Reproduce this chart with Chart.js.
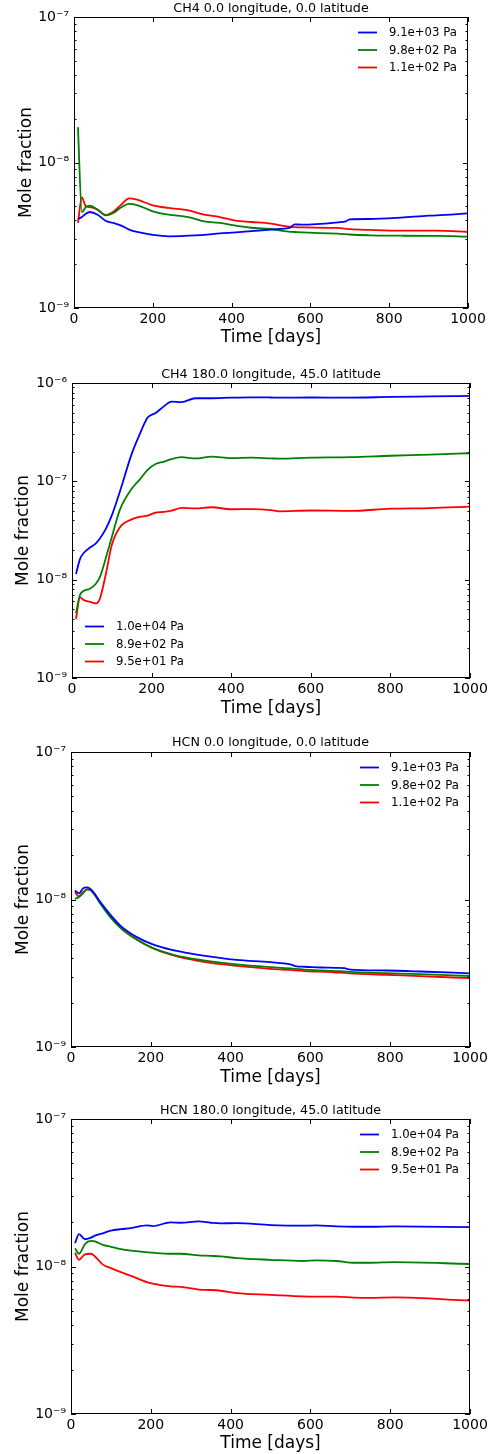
<!DOCTYPE html>
<html>
<head>
<meta charset="utf-8">
<script src="https://cdn.jsdelivr.net/npm/chart.js@4.4.1/dist/chart.umd.min.js"></script>
<style>
  html, body { margin: 0; padding: 0; background: #fff; }
  #wrap { position: relative; width: 496px; height: 1454px; }
  .panel { position: absolute; left: 0; width: 496px; }
</style>
</head>
<body>
<div id="wrap">
  <div class="panel" style="top:0px;height:350px"><canvas id="c1"></canvas></div>
  <div class="panel" style="top:360px;height:365px"><canvas id="c2"></canvas></div>
  <div class="panel" style="top:730px;height:360px"><canvas id="c3"></canvas></div>
  <div class="panel" style="top:1100px;height:354px"><canvas id="c4"></canvas></div>
</div>
<script>
// x ticks shared by all panels
const xTicks = [0, 200, 400, 600, 800, 1000]

// CH4 at 0.0 lon, 0.0 lat
const ch4EqDays = [10, 20, 30, 40, 60, 80, 100, 120, 140, 160, 200, 240, 290, 330, 370, 410, 450, 500, 540, 550, 560, 580, 670, 690, 700, 750, 830, 900, 920, 1000]
const ch4EqLabels = ['9.1e+03 Pa', '9.8e+02 Pa', '1.1e+02 Pa']
const ch4EqLow = [4.09e-9, 4.22e-9, 4.45e-9, 4.57e-9, 4.38e-9, 3.98e-9, 3.84e-9, 3.68e-9, 3.46e-9, 3.33e-9, 3.18e-9, 3.11e-9, 3.14e-9, 3.18e-9, 3.26e-9, 3.31e-9, 3.38e-9, 3.46e-9, 3.53e-9, 3.58e-9, 3.76e-9, 3.74e-9, 3.88e-9, 3.94e-9, 4.07e-9, 4.09e-9, 4.18e-9, 4.31e-9, 4.33e-9, 4.47e-9]
const ch4EqMid = [1.75e-8, 4.55e-9, 4.94e-9, 5.05e-9, 4.74e-9, 4.33e-9, 4.50e-9, 4.92e-9, 5.19e-9, 5.10e-9, 4.62e-9, 4.38e-9, 4.22e-9, 3.94e-9, 3.84e-9, 3.68e-9, 3.56e-9, 3.49e-9, 3.36e-9, 3.34e-9, 3.33e-9, 3.31e-9, 3.24e-9, 3.22e-9, 3.20e-9, 3.16e-9, 3.14e-9, 3.13e-9, 3.13e-9, 3.09e-9]
const ch4EqHigh = [3.84e-9, 5.76e-9, 5.00e-9, 4.94e-9, 4.74e-9, 4.36e-9, 4.59e-9, 5.13e-9, 5.67e-9, 5.55e-9, 5.08e-9, 4.87e-9, 4.69e-9, 4.38e-9, 4.22e-9, 3.98e-9, 3.90e-9, 3.80e-9, 3.64e-9, 3.62e-9, 3.60e-9, 3.58e-9, 3.55e-9, 3.50e-9, 3.48e-9, 3.44e-9, 3.40e-9, 3.40e-9, 3.40e-9, 3.33e-9]
const ch4EqTicks = [1e-9, 1e-8, 1e-7]

// CH4 at 180.0 lon, 45.0 lat
const ch4NDays = [10, 20, 30, 45, 60, 70, 85, 100, 120, 150, 170, 190, 210, 230, 250, 275, 310, 350, 400, 450, 500, 520, 600, 700, 800, 900, 1000]
const ch4NLabels = ['1.0e+04 Pa', '8.9e+02 Pa', '9.5e+01 Pa']
const ch4NLow = [1.14e-8, 1.62e-8, 1.88e-8, 2.12e-8, 2.34e-8, 2.62e-8, 3.28e-8, 4.5e-8, 7.8e-8, 1.9e-7, 3.0e-7, 4.45e-7, 4.95e-7, 5.75e-7, 6.46e-7, 6.4e-7, 7.0e-7, 7.0e-7, 7.1e-7, 7.15e-7, 7.12e-7, 7.1e-7, 7.12e-7, 7.1e-7, 7.22e-7, 7.3e-7, 7.38e-7]
const ch4NMid = [4.55e-9, 6.98e-9, 7.7e-9, 8.1e-9, 9.1e-9, 1.06e-8, 1.66e-8, 2.7e-8, 5.1e-8, 8.4e-8, 1.04e-7, 1.31e-7, 1.5e-7, 1.58e-7, 1.68e-7, 1.76e-7, 1.71e-7, 1.78e-7, 1.72e-7, 1.74e-7, 1.71e-7, 1.70e-7, 1.74e-7, 1.76e-7, 1.82e-7, 1.87e-7, 1.93e-7]
const ch4NHigh = [3.98e-9, 6.61e-9, 6.2e-9, 5.95e-9, 5.74e-9, 6.4e-9, 1.14e-8, 2.25e-8, 3.4e-8, 4.1e-8, 4.35e-8, 4.48e-8, 4.8e-8, 4.9e-8, 5.03e-8, 5.38e-8, 5.3e-8, 5.45e-8, 5.2e-8, 5.22e-8, 5.1e-8, 4.96e-8, 5.05e-8, 5.0e-8, 5.27e-8, 5.34e-8, 5.52e-8]
const ch4NTicks = [1e-9, 1e-8, 1e-7, 1e-6]

// HCN at 0.0 lon, 0.0 lat
const hcnEqDays = [10, 20, 30, 40, 50, 75, 100, 125, 165, 205, 250, 290, 350, 415, 500, 550, 565, 585, 625, 665, 685, 700, 790, 875, 1000]
const hcnEqLabels = ['9.1e+03 Pa', '9.8e+02 Pa', '1.1e+02 Pa']
const hcnEqLow = [1.15e-8, 1.10e-8, 1.19e-8, 1.21e-8, 1.17e-8, 9.5e-9, 7.8e-9, 6.6e-9, 5.56e-9, 4.96e-9, 4.57e-9, 4.35e-9, 4.1e-9, 3.9e-9, 3.76e-9, 3.63e-9, 3.52e-9, 3.5e-9, 3.46e-9, 3.44e-9, 3.42e-9, 3.35e-9, 3.30e-9, 3.25e-9, 3.16e-9]
const hcnEqMid = [1.01e-8, 1.04e-8, 1.10e-8, 1.17e-8, 1.15e-8, 9.25e-9, 7.5e-9, 6.37e-9, 5.33e-9, 4.68e-9, 4.27e-9, 4.03e-9, 3.80e-9, 3.63e-9, 3.48e-9, 3.41e-9, 3.39e-9, 3.35e-9, 3.31e-9, 3.27e-9, 3.25e-9, 3.23e-9, 3.17e-9, 3.12e-9, 3.03e-9]
const hcnEqHigh = [1.12e-8, 1.05e-8, 1.12e-8, 1.17e-8, 1.16e-8, 9.35e-9, 7.6e-9, 6.43e-9, 5.35e-9, 4.68e-9, 4.23e-9, 3.97e-9, 3.72e-9, 3.55e-9, 3.39e-9, 3.33e-9, 3.31e-9, 3.27e-9, 3.24e-9, 3.20e-9, 3.18e-9, 3.16e-9, 3.09e-9, 3.02e-9, 2.93e-9]
const hcnEqTicks = [1e-9, 1e-8, 1e-7]

// HCN at 180.0 lon, 45.0 lat
const hcnNDays = [10, 20, 35, 50, 60, 80, 100, 125, 150, 190, 205, 250, 275, 320, 350, 375, 415, 500, 580, 615, 665, 710, 750, 810, 1000]
const hcnNLabels = ['1.0e+04 Pa', '8.9e+02 Pa', '9.5e+01 Pa']
const hcnNLow = [1.44e-8, 1.66e-8, 1.53e-8, 1.57e-8, 1.62e-8, 1.68e-8, 1.75e-8, 1.79e-8, 1.82e-8, 1.90e-8, 1.88e-8, 1.99e-8, 1.98e-8, 2.02e-8, 1.98e-8, 1.96e-8, 1.97e-8, 1.91e-8, 1.89e-8, 1.90e-8, 1.87e-8, 1.86e-8, 1.86e-8, 1.87e-8, 1.85e-8]
const hcnNMid = [1.33e-8, 1.22e-8, 1.42e-8, 1.49e-8, 1.48e-8, 1.40e-8, 1.36e-8, 1.31e-8, 1.28e-8, 1.25e-8, 1.24e-8, 1.22e-8, 1.22e-8, 1.19e-8, 1.18e-8, 1.17e-8, 1.14e-8, 1.11e-8, 1.09e-8, 1.10e-8, 1.09e-8, 1.06e-8, 1.06e-8, 1.07e-8, 1.04e-8]
const hcnNHigh = [1.24e-8, 1.11e-8, 1.21e-8, 1.22e-8, 1.17e-8, 1.03e-8, 9.75e-9, 9.15e-9, 8.65e-9, 7.83e-9, 7.65e-9, 7.33e-9, 7.28e-9, 6.98e-9, 6.93e-9, 6.85e-9, 6.60e-9, 6.43e-9, 6.27e-9, 6.25e-9, 6.24e-9, 6.15e-9, 6.13e-9, 6.17e-9, 5.87e-9]
const hcnNTicks = [1e-9, 1e-8, 1e-7]

const lineColors = ['#0000ff', '#008000', '#ff0000']

Chart.defaults.font.family = '"DejaVu Sans", sans-serif'
Chart.defaults.color = '#000'

const SUP = { '-': '\u207B', '0': '\u2070', '1': '\u00B9', '2': '\u00B2', '3': '\u00B3', '4': '\u2074', '5': '\u2075', '6': '\u2076', '7': '\u2077', '8': '\u2078', '9': '\u2079' }
const powLabel = v => '10' + String(Math.round(Math.log10(v))).split('').map(c => SUP[c]).join('')

// frame + inward ticks on all four sides (matplotlib classic look)
const frameTicks = {
  id: 'frameTicks',
  afterDatasetsDraw(chart) {
    const { ctx, chartArea: a, scales: { x, y } } = chart
    ctx.save()
    ctx.strokeStyle = '#000'
    ctx.lineWidth = 1
    ctx.beginPath()
    xTicks.forEach(v => {
      const px = Math.round(x.getPixelForValue(v)) + 0.5
      ctx.moveTo(px, a.bottom); ctx.lineTo(px, a.bottom - 5)
      ctx.moveTo(px, a.top); ctx.lineTo(px, a.top + 5)
    })
    const lo = Math.round(Math.log10(y.min)), hi = Math.round(Math.log10(y.max))
    for (let e = lo; e <= hi; e++) {
      for (let k = 1; k < 10; k++) {
        if (e === hi && k > 1) break
        const py = Math.round(y.getPixelForValue(k * Math.pow(10, e))) + 0.5
        const len = k === 1 ? 5 : 2.5
        ctx.moveTo(a.left, py); ctx.lineTo(a.left + len, py)
        ctx.moveTo(a.right, py); ctx.lineTo(a.right - len, py)
      }
    }
    ctx.stroke()
    ctx.strokeRect(Math.round(a.left) + 0.5, Math.round(a.top) + 0.5, Math.round(a.width) - 1, Math.round(a.height) - 1)
    ctx.restore()
  }
}

// legend drawn inside the axes
const insetLegend = {
  id: 'insetLegend',
  afterDatasetsDraw(chart, args, opts) {
    const { ctx, chartArea: a } = chart
    const x0 = opts.corner === 'tr' ? a.right - 110 : a.left + 13
    const y0 = opts.corner === 'tr' ? a.top + 15.5 : a.bottom - 51.5
    ctx.save()
    chart.data.datasets.forEach((ds, i) => {
      const yy = y0 + i * 17.5
      ctx.strokeStyle = ds.borderColor
      ctx.lineWidth = ds.borderWidth
      ctx.beginPath(); ctx.moveTo(x0, yy); ctx.lineTo(x0 + 19, yy); ctx.stroke()
      ctx.fillStyle = '#000'
      ctx.font = '11.7px "DejaVu Sans"'
      ctx.textBaseline = 'middle'
      ctx.fillText(ds.label, x0 + 31, yy + 0.5)
    })
    ctx.restore()
  }
}

function makePanel(id, g, title, days, series, labels, yTicks, corner) {
  const lh = 12.7 * 1.2
  const tTop = g.titleY - lh / 2
  const tBot = g.top - tTop - lh
  const xLh = 17 * 1.2
  new Chart(document.getElementById(id), {
    type: 'line',
    data: {
      datasets: series.map((vals, i) => ({
        label: labels[i],
        data: days.map((d, j) => ({ x: d, y: vals[j] })),
        borderColor: lineColors[i],
        borderWidth: 1.8,
        pointRadius: 0,
        fill: false,
        cubicInterpolationMode: 'monotone'
      }))
    },
    options: {
      responsive: true,
      maintainAspectRatio: false,
      animation: false,
      layout: { padding: { left: 0, right: 496 - g.right, top: 0, bottom: 0 } },
      plugins: {
        legend: { display: false },
        tooltip: { enabled: false },
        title: {
          display: true, text: title, fullSize: false,
          font: { size: 12.7, weight: 'normal' },
          padding: { top: tTop, bottom: tBot }
        },
        insetLegend: { corner }
      },
      scales: {
        x: {
          type: 'linear', min: 0, max: 1000,
          grid: { display: false, drawTicks: false },
          border: { display: false },
          afterBuildTicks: s => { s.ticks = xTicks.map(v => ({ value: v })) },
          afterFit: s => { s.height = g.h - g.bottom },
          ticks: { font: { size: 14 }, padding: 3, autoSkip: false, maxRotation: 0, callback: v => String(v) },
          title: { display: true, text: 'Time [days]', font: { size: 17 }, padding: { top: 0, bottom: g.h - g.xTitleY - xLh / 2 - 1 } }
        },
        y: {
          type: 'logarithmic', min: yTicks[0], max: yTicks[yTicks.length - 1],
          grid: { display: false, drawTicks: false },
          border: { display: false },
          afterBuildTicks: s => { s.ticks = yTicks.map(v => ({ value: v })) },
          afterFit: s => { s.width = g.left },
          ticks: { font: { size: 14 }, padding: 5, autoSkip: false, callback: v => powLabel(v) },
          title: { display: true, text: 'Mole fraction', font: { size: 17 }, padding: { top: g.yTitleX - xLh / 2, bottom: 0 } }
        }
      }
    },
    plugins: [frameTicks, insetLegend]
  })
}

makePanel('c1', { h: 350, top: 17, bottom: 308, left: 74, right: 468, titleY: 9, xTitleY: 337, yTitleX: 27 },
  'CH4 0.0 longitude, 0.0 latitude', ch4EqDays, [ch4EqLow, ch4EqMid, ch4EqHigh], ch4EqLabels, ch4EqTicks, 'tr')
makePanel('c2', { h: 365, top: 23, bottom: 318, left: 72, right: 470, titleY: 15, xTitleY: 348, yTitleX: 24 },
  'CH4 180.0 longitude, 45.0 latitude', ch4NDays, [ch4NLow, ch4NMid, ch4NHigh], ch4NLabels, ch4NTicks, 'bl')
makePanel('c3', { h: 360, top: 22, bottom: 317, left: 71, right: 470, titleY: 13, xTitleY: 347, yTitleX: 24 },
  'HCN 0.0 longitude, 0.0 latitude', hcnEqDays, [hcnEqLow, hcnEqMid, hcnEqHigh], hcnEqLabels, hcnEqTicks, 'tr')
makePanel('c4', { h: 354, top: 19, bottom: 314, left: 71, right: 470, titleY: 11, xTitleY: 343, yTitleX: 24 },
  'HCN 180.0 longitude, 45.0 latitude', hcnNDays, [hcnNLow, hcnNMid, hcnNHigh], hcnNLabels, hcnNTicks, 'tr')
</script>
</body>
</html>
